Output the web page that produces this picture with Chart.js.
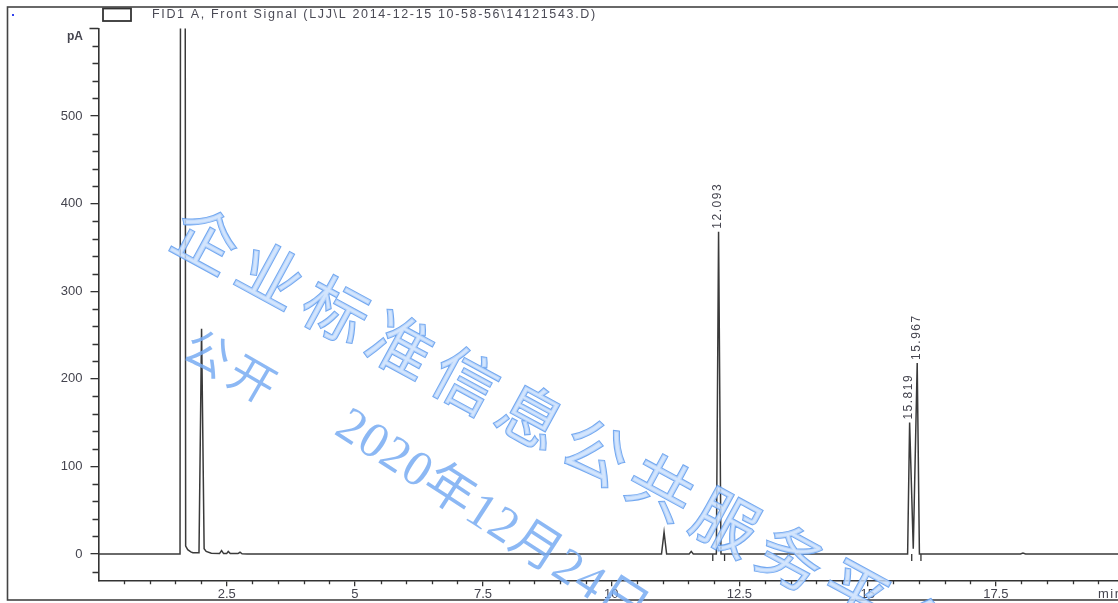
<!DOCTYPE html>
<html>
<head>
<meta charset="utf-8">
<script src="https://cdn.jsdelivr.net/npm/chart.js@4/dist/chart.umd.min.js"></script>
<style>
  html, body { margin: 0; padding: 0; background: #fff; overflow: hidden; }
  #wrap { position: absolute; left: 0; top: 0; width: 1140px; height: 603px; }
</style>
</head>
<body>
<div id="wrap"><canvas id="c" width="1140" height="603"></canvas></div>
<script>
// FID1 A front-signal chromatogram: retention time (min) vs detector signal (pA)
const times  = [0, 1.59, 1.645, 1.70, 1.74, 1.80, 1.84, 1.96, 2.01, 2.06, 2.10, 2.20,
                2.36, 2.40, 2.44, 2.50, 2.53, 2.57, 2.72, 2.76, 2.80, 2.90,
                10.98, 11.03, 11.08, 11.52, 11.56, 11.60,
                12.05, 12.093, 12.14,
                15.78, 15.819, 15.89, 15.967, 16.01,
                17.98, 18.03, 18.08, 20];
const signal = [0, 0, 4000, 9, 5, 2.5, 1.5, 1.5, 257, 6, 3, 1,
                0.5, 4, 0.5, 0.5, 3, 0.5, 0.5, 2, 0.3, 0,
                0, 25, 0, 0, 3, 0,
                0, 368, 0,
                0, 150, 6, 218, 0,
                0, 1, 0, 0];

// integration start/stop marks drawn just under the baseline
const eventTimes  = [11.98, 12.21, 15.86, 16.04];
const eventLevels = [-4, -4, -4, -4];

// labelled peaks (retention times printed above the apex)
const peakLabels = ['12.093', '15.819', '15.967'];

// axis ticks
const xMajor = [2.5, 5, 7.5, 10, 12.5, 15, 17.5];
const xTickLabels = ['2.5', '5', '7.5', '10', '12.5', '15', '17.5'];
const yMajor = [0, 100, 200, 300, 400, 500];
const yTickLabels = ['0', '100', '200', '300', '400', '500'];

const titleText = 'FID1 A, Front Signal (LJJ\\L 2014-12-15 10-58-56\\14121543.D)';
const yUnit = 'pA';
const xUnit = 'min';
const wmMain = '企业标准信息公共服务平台';
const wmOpen = '公开';
const wmDate = '2020年12月24日';

const SANS = '"Liberation Sans", Arial, sans-serif';
const TEXT = '#44444e';
const AXIS = '#333';

const frame = {
  id: 'frame',
  beforeDraw(chart) {
    const c = chart.ctx;
    c.save();
    c.fillStyle = '#fff';
    c.fillRect(0, 0, chart.width, chart.height);
    c.restore();
  },
  afterDraw(chart) {
    const c = chart.ctx;
    const xs = chart.scales.x, ys = chart.scales.y;
    c.save();
    // outer page frame
    c.strokeStyle = '#444';
    c.lineWidth = 1.6;
    c.strokeRect(7.5, 7, 1140, 593);
    // small blue marker
    c.fillStyle = '#3344ee';
    c.fillRect(12, 14, 2, 2);
    // legend swatch + title
    c.strokeStyle = '#333';
    c.lineWidth = 1.8;
    c.strokeRect(103, 8.5, 28, 12.5);
    c.fillStyle = '#4a4a55';
    c.font = '12.5px ' + SANS;
    c.textBaseline = 'middle';
    c.textAlign = 'left';
    const w0 = c.measureText(titleText).width;
    c.letterSpacing = ((445 - w0) / titleText.length).toFixed(2) + 'px';
    c.fillText(titleText, 152, 14.5);
    c.letterSpacing = '0px';

    // unit labels
    c.font = 'bold 12px ' + SANS;
    c.fillStyle = TEXT;
    c.textAlign = 'right';
    c.fillText(yUnit, 83, 37);
    c.font = '13px ' + SANS;
    c.textAlign = 'left';
    c.letterSpacing = '1.5px';
    c.fillText(xUnit, 1098, 594);
    c.letterSpacing = '0px';

    // minor ticks
    c.strokeStyle = AXIS;
    c.lineWidth = 1.3;
    c.beginPath();
    for (let k = 1; k < 40; k++) {
      const v = k * 0.5;
      if (Math.abs(v / 2.5 - Math.round(v / 2.5)) < 1e-6) continue;
      const px = Math.round(xs.getPixelForValue(v)) + 0.5;
      c.moveTo(px, xs.top);
      c.lineTo(px, xs.top + 4);
    }
    for (let v = -20; v <= 600; v += 20) {
      if (v % 100 === 0 && v >= 0 && v <= 500) continue;
      const py = Math.round(ys.getPixelForValue(v)) + 0.5;
      const len = v === 600 ? 9 : 6;
      c.moveTo(ys.right, py);
      c.lineTo(ys.right - len, py);
    }
    c.stroke();

    // retention-time labels above the labelled apexes
    c.font = '12px ' + SANS;
    c.fillStyle = '#45454f';
    c.letterSpacing = '1.5px';
    peakLabels.forEach(lbl => {
      const t = parseFloat(lbl);
      const i = times.indexOf(t);
      const px = xs.getPixelForValue(t);
      const py = ys.getPixelForValue(signal[i]);
      c.save();
      c.translate(px - 1, py - 3);
      c.rotate(-Math.PI / 2);
      c.textAlign = 'left';
      c.textBaseline = 'middle';
      c.fillText(lbl, 0, 0);
      c.restore();
    });
    c.letterSpacing = '0px';

    // watermark
    const drawLine = (txt, x, y, deg, font, spacing, fill, stroke, sw) => {
      c.save();
      c.translate(x, y);
      c.rotate(deg * Math.PI / 180);
      c.font = font;
      c.letterSpacing = spacing + 'px';
      c.textAlign = 'left';
      c.textBaseline = 'middle';
      if (stroke) {
        c.strokeStyle = stroke;
        c.lineWidth = sw;
        c.strokeText(txt, 0, 0);
      }
      c.fillStyle = fill;
      c.fillText(txt, 0, 0);
      c.restore();
    };
    drawLine(wmMain, 178, 224, 28.5, '64px "Noto Sans CJK SC", sans-serif', 10,
             'rgba(200,222,252,0.8)', 'rgba(100,158,238,0.9)', 2);
    drawLine(wmOpen, 188, 341, 30, '46px "Noto Sans CJK SC", sans-serif', 6,
             'rgba(120,172,242,0.85)', null, 0);
    drawLine(wmDate, 340, 422, 33, '50px "Liberation Serif", "Noto Sans CJK SC", serif', 1,
             'rgba(120,172,242,0.85)', null, 0);
    c.restore();
  }
};

new Chart(document.getElementById('c'), {
  type: 'line',
  data: {
    datasets: [
      {
        data: times.map((t, i) => ({ x: t, y: signal[i] })),
        borderColor: '#3a3a3a',
        borderWidth: 1.5,
        pointRadius: 0,
        tension: 0
      },
      {
        data: eventTimes.map((t, i) => ({ x: t, y: eventLevels[i] })),
        showLine: false,
        pointStyle: 'line',
        rotation: 90,
        pointRadius: 3.5,
        borderColor: '#333',
        borderWidth: 1.3
      }
    ]
  },
  options: {
    responsive: false,
    animation: false,
    devicePixelRatio: 1,
    layout: { padding: { left: 0, top: 28.4, right: 16, bottom: 0 } },
    plugins: { legend: { display: false }, tooltip: { enabled: false } },
    scales: {
      x: {
        type: 'linear',
        min: 0,
        max: 20,
        afterFit(s) { s.height = 22.7; },
        afterBuildTicks(s) { s.ticks = xMajor.map(v => ({ value: v })); },
        grid: { drawOnChartArea: false, tickLength: 6, color: AXIS, lineWidth: 1.3 },
        border: { color: AXIS, width: 1.6 },
        ticks: {
          autoSkip: false, maxRotation: 0, padding: 0,
          color: TEXT, font: { size: 13, family: SANS },
          callback: (v, i) => xTickLabels[i]
        }
      },
      y: {
        type: 'linear',
        min: -30,
        max: 600,
        afterFit(s) { s.width = 98.5; },
        afterBuildTicks(s) { s.ticks = yMajor.map(v => ({ value: v })); },
        grid: { drawOnChartArea: false, tickLength: 8, color: AXIS, lineWidth: 1.3 },
        border: { color: AXIS, width: 1.6 },
        ticks: {
          padding: 8,
          color: TEXT, font: { size: 13, family: SANS },
          callback: (v, i) => yTickLabels[i]
        }
      }
    }
  },
  plugins: [frame]
});
</script>
</body>
</html>
